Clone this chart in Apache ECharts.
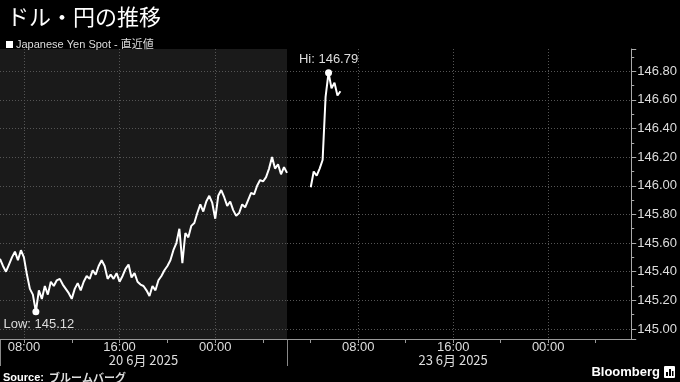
<!DOCTYPE html>
<html><head><meta charset="utf-8">
<script src="https://cdn.jsdelivr.net/npm/echarts@6/dist/echarts.min.js"></script>
<style>html,body{margin:0;padding:0;background:#000}#c{width:680px;height:382px}</style>
</head><body><div id="c"></div>
<script>
// ---- data ----
const titleText = 'ドル・円の推移';
const seriesName = 'Japanese Yen Spot - 直近値';
const leftDateLabel = '20 6月 2025';
const rightDateLabel = '23 6月 2025';
// 15-minute category slots (day + time)
function makeTimes(day1, day2, startHour, count) {
  const out = [];
  for (let k = 0; k < count; k++) {
    const tot = startHour * 60 + 15 * k;
    const d = tot >= 1440 ? day2 : day1;
    const m = tot % 1440;
    const hh = String(Math.floor(m / 60)).padStart(2, '0');
    const mm = String(m % 60).padStart(2, '0');
    out.push(d + ' ' + hh + ':' + mm);
  }
  return out;
}
const leftTimes = makeTimes('20', '21', 6, 97);   // Fri 06:00 -> Sat 06:00
const rightTimes = makeTimes('23', '24', 2, 117); // Mon 02:00 -> Tue 07:00
const leftValues = [
  145.49,145.44,145.40,145.45,145.50,145.54,145.48,145.55,145.50,145.38,
  145.28,145.24,145.12,145.27,145.21,145.30,145.24,145.33,145.30,145.34,
  145.35,145.31,145.28,145.25,145.21,145.28,145.32,145.27,145.33,145.37,
  145.35,145.41,145.38,145.44,145.48,145.44,145.35,145.38,145.35,145.39,
  145.33,145.37,145.42,145.45,145.36,145.39,145.33,145.31,145.30,145.27,
  145.23,145.30,145.27,145.34,145.37,145.41,145.44,145.48,145.55,145.60,
  145.70,145.46,145.67,145.64,145.72,145.74,145.81,145.87,145.82,145.89,
  145.93,145.88,145.77,145.93,145.97,145.92,145.86,145.89,145.83,145.79,
  145.81,145.87,145.85,145.90,145.95,145.94,146.00,146.04,146.03,146.06,
  146.12,146.20,146.12,146.15,146.08,146.13,146.09
];
const rightStamps = ['23 04:00','23 04:15','23 04:30','23 04:45','23 05:00','23 05:15','23 05:30','23 05:45','23 06:00','23 06:15','23 06:30'];
const rightValues = [145.99,146.10,146.07,146.12,146.18,146.62,146.79,146.68,146.72,146.63,146.66];
const yMin = 144.93, yMax = 146.955;

// ---- chart ----
const FONT = '"Liberation Sans","Noto Sans CJK JP",sans-serif';
const CJK = '"Noto Sans CJK JP","Liberation Sans",sans-serif';
const hourOf = v => parseInt(v.slice(-5, -3), 10);
const isHour = v => v.slice(-2) === '00';
const tickFn = (i, v) => isHour(v) && hourOf(v) % 4 === 0;
const labelFn = (i, v) => isHour(v) && hourOf(v) % 8 === 0;

function xAxisCfg(grid, times, name, pad) {
  return {
    gridIndex: grid, type: 'category', data: times, boundaryGap: false,
    axisLine: { lineStyle: { color: '#999', width: 1 } },
    axisTick: { interval: tickFn, length: 4, lineStyle: { color: '#999' } },
    axisLabel: { interval: labelFn, formatter: v => v.slice(-5), color: '#ddd', fontSize: 13, fontFamily: FONT, margin: 2 },
    splitLine: { show: true, interval: labelFn, lineStyle: { color: '#555', type: [1, 2] } },
    name: name, nameLocation: 'middle', nameGap: 15, nameMoveOverlap: false,
    nameTextStyle: { color: '#ddd', fontSize: 13, fontFamily: CJK, padding: pad }
  };
}
function yAxisCfg(grid, showAxis) {
  return {
    gridIndex: grid, type: 'value', position: 'right', min: yMin, max: yMax, splitNumber: 10,
    axisLine: { show: showAxis, lineStyle: { color: '#aaa' } },
    axisTick: { show: showAxis, length: 5, lineStyle: { color: '#aaa' } },
    minorTick: { show: showAxis, splitNumber: 2, length: 3, lineStyle: { color: '#aaa' } },
    axisLabel: { show: showAxis, formatter: v => v.toFixed(2), color: '#ddd', fontSize: 13, fontFamily: FONT, margin: 6, showMinLabel: false, showMaxLabel: false },
    splitLine: { show: true, showMinLine: false, showMaxLine: false, lineStyle: { color: '#555', type: [1, 2] } }
  };
}
const mpLabel = { color: '#ddd', fontSize: 13, fontFamily: FONT, distance: 3 };

const chart = echarts.init(document.getElementById('c'), null, { renderer: 'canvas' });
chart.setOption({
  backgroundColor: '#000',
  animation: false,
  title: [
    { text: titleText, left: 2, top: 1, textStyle: { color: '#fff', fontSize: 22, fontWeight: 'normal', fontFamily: CJK } },
    { text: '{b|Source:} {n|ブルームバーグ}', left: 3, top: 369, padding: 0,
      textStyle: { rich: { b: { color: '#fff', fontWeight: 'bold', fontSize: 11, fontFamily: FONT }, n: { color: '#ddd', fontSize: 11, fontFamily: CJK } } } },
    { text: 'Bloomberg', right: 20, bottom: 0, padding: [0, 0, 3, 0], textStyle: { color: '#fff', fontWeight: 'bold', fontSize: 13, fontFamily: FONT } }
  ],
  legend: {
    data: [seriesName], left: 1, top: 34, icon: 'rect', itemWidth: 7, itemHeight: 7, itemGap: 4,
    textStyle: { color: '#ddd', fontSize: 11, fontFamily: FONT, padding: [0, 0, 0, -2] }
  },
  grid: [
    { left: 0, top: 49, width: 287, height: 290, show: true, backgroundColor: '#1a1a1a', borderWidth: 0 },
    { left: 287, top: 49, width: 347, height: 290 }
  ],
  xAxis: [
    xAxisCfg(0, leftTimes, leftDateLabel, [0, 0, 0, 0]),
    xAxisCfg(1, rightTimes, rightDateLabel, [0, 12, 0, 0])
  ],
  yAxis: [yAxisCfg(0, false), yAxisCfg(1, true)],
  series: [
    { name: seriesName, type: 'line', xAxisIndex: 0, yAxisIndex: 0, data: leftValues,
      showSymbol: false, lineStyle: { color: '#fff', width: 2 }, itemStyle: { color: '#fff' },
      markPoint: { symbol: 'circle', symbolSize: 7, itemStyle: { color: '#fff' },
        label: Object.assign({ position: 'bottom', offset: [3, 0], formatter: p => 'Low: ' + p.value.toFixed(2) }, mpLabel),
        data: [{ type: 'min' }] } },
    { name: seriesName, type: 'line', xAxisIndex: 1, yAxisIndex: 1,
      data: rightStamps.map((t, k) => [t, rightValues[k]]),
      showSymbol: false, lineStyle: { color: '#fff', width: 2 }, itemStyle: { color: '#fff' },
      markPoint: { symbol: 'circle', symbolSize: 7, itemStyle: { color: '#fff' },
        label: Object.assign({ position: 'top', formatter: p => 'Hi: ' + p.value.toFixed(2) }, mpLabel),
        data: [{ type: 'max' }] } }
  ],
  graphic: [
    { type: 'line', shape: { x1: 0.5, y1: 339, x2: 0.5, y2: 366 }, style: { stroke: '#888', lineWidth: 1 } },
    { type: 'line', shape: { x1: 287.5, y1: 339, x2: 287.5, y2: 366 }, style: { stroke: '#888', lineWidth: 1 } },
    { type: 'group', left: 664, top: 366, children: [
      { type: 'rect', shape: { x: 0, y: 0, width: 11, height: 12, r: 1 }, style: { fill: '#fff' } },
      { type: 'rect', shape: { x: 2, y: 6, width: 2, height: 4 }, style: { fill: '#000' } },
      { type: 'rect', shape: { x: 5, y: 3, width: 2, height: 7 }, style: { fill: '#000' } },
      { type: 'rect', shape: { x: 8, y: 5, width: 1.5, height: 5 }, style: { fill: '#000' } }
    ] }
  ]
});
</script></body></html>
